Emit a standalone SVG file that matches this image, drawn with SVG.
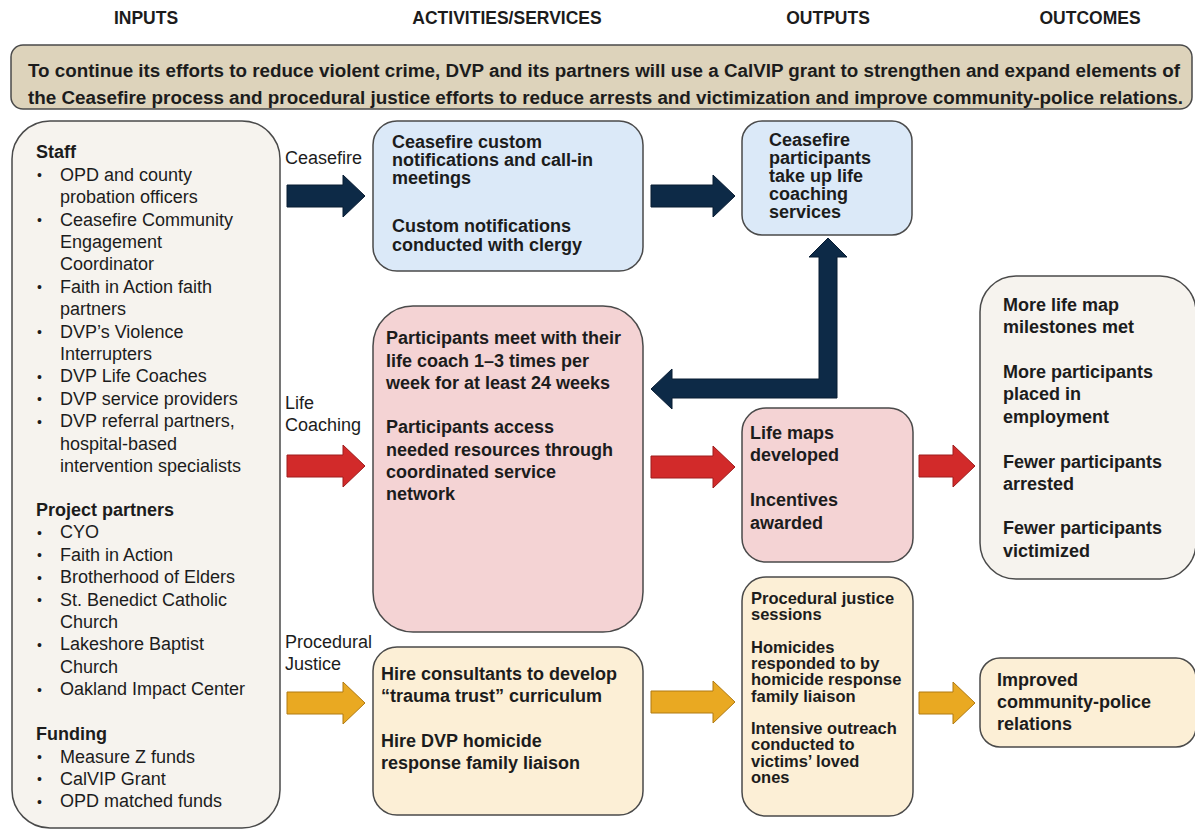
<svg xmlns="http://www.w3.org/2000/svg" width="1195" height="829" viewBox="0 0 1195 829">
<style>
text{font-family:"Liberation Sans",Arial,sans-serif;fill:#1c1c1c}
.h{font-size:17.5px;font-weight:bold;text-anchor:middle}
.b{font-size:18px;font-weight:bold}
.bs{font-size:16.5px;font-weight:bold}
.bn{font-size:17.5px;font-weight:bold}
.r{font-size:18px}
.bul{font-size:14px}
.box{stroke:#4a4a4a;stroke-width:1.5}
.navy{fill:#0d2a47;stroke:#081c33;stroke-width:1}
.red{fill:#d22a2a;stroke:#9e1c1c;stroke-width:1}
.gold{fill:#e9a922;stroke:#b07a12;stroke-width:1}
</style>
<defs>
<polygon id="arrL" points="0,-11 56,-11 56,-21 78,0 56,21 56,11 0,11"/>
<polygon id="arrM" points="0,-11 62,-11 62,-21 84,0 62,21 62,11 0,11"/>
<polygon id="arrS" points="0,-11 34,-11 34,-21 56,0 34,21 34,11 0,11"/>
</defs>
<rect width="1195" height="829" fill="#ffffff"/>
<g id="headers">
<text class="h" x="146" y="24">INPUTS</text>
<text class="h" x="507" y="24">ACTIVITIES/SERVICES</text>
<text class="h" x="828" y="24">OUTPUTS</text>
<text class="h" x="1090" y="24">OUTCOMES</text>
</g>
<g id="banner">
<rect class="box" x="11" y="45" width="1181" height="64" rx="12" fill="#ddd3bb"/>
<text class="bn" x="28" y="77" textLength="1152" lengthAdjust="spacingAndGlyphs">To continue its efforts to reduce violent crime, DVP and its partners will use a CalVIP grant to strengthen and expand elements of</text>
<text class="bn" x="28" y="104" textLength="1155" lengthAdjust="spacingAndGlyphs">the Ceasefire process and procedural justice efforts to reduce arrests and victimization and improve community-police relations.</text>
</g>
<g id="inputs">
<rect class="box" x="12" y="121" width="268" height="707" rx="38" fill="#f6f3ee"/>
<text class="b" x="36" y="158">Staff</text>
<g class="bul"><text x="37" y="180">•</text><text x="37" y="225">•</text><text x="37" y="292">•</text><text x="37" y="337">•</text><text x="37" y="382">•</text><text x="37" y="404">•</text><text x="37" y="427">•</text>
<text x="37" y="538">•</text><text x="37" y="560">•</text><text x="37" y="583">•</text><text x="37" y="605">•</text><text x="37" y="650">•</text><text x="37" y="695">•</text>
<text x="37" y="762">•</text><text x="37" y="784">•</text><text x="37" y="807">•</text></g>
<text class="r" x="60" y="181">OPD and county</text>
<text class="r" x="60" y="203">probation officers</text>
<text class="r" x="60" y="226">Ceasefire Community</text>
<text class="r" x="60" y="248">Engagement</text>
<text class="r" x="60" y="270">Coordinator</text>
<text class="r" x="60" y="293">Faith in Action faith</text>
<text class="r" x="60" y="315">partners</text>
<text class="r" x="60" y="338">DVP’s Violence</text>
<text class="r" x="60" y="360">Interrupters</text>
<text class="r" x="60" y="382">DVP Life Coaches</text>
<text class="r" x="60" y="405">DVP service providers</text>
<text class="r" x="60" y="427">DVP referral partners,</text>
<text class="r" x="60" y="450">hospital-based</text>
<text class="r" x="60" y="472">intervention specialists</text>
<text class="b" x="36" y="516">Project partners</text>
<text class="r" x="60" y="538">CYO</text>
<text class="r" x="60" y="561">Faith in Action</text>
<text class="r" x="60" y="583">Brotherhood of Elders</text>
<text class="r" x="60" y="606">St. Benedict Catholic</text>
<text class="r" x="60" y="628">Church</text>
<text class="r" x="60" y="650">Lakeshore Baptist</text>
<text class="r" x="60" y="673">Church</text>
<text class="r" x="60" y="695">Oakland Impact Center</text>
<text class="b" x="36" y="740">Funding</text>
<text class="r" x="60" y="763">Measure Z funds</text>
<text class="r" x="60" y="785">CalVIP Grant</text>
<text class="r" x="60" y="807">OPD matched funds</text>
</g>
<g id="labels">
<text class="r" x="285" y="164">Ceasefire</text>
<text class="r" x="285" y="409">Life</text>
<text class="r" x="285" y="431">Coaching</text>
<text class="r" x="285" y="648">Procedural</text>
<text class="r" x="285" y="670">Justice</text>
</g>
<g id="act-ceasefire">
<rect class="box" x="373" y="121" width="270" height="150" rx="24" fill="#dbe9f8"/>
<text class="b" x="392" y="148">Ceasefire custom</text>
<text class="b" x="392" y="166">notifications and call-in</text>
<text class="b" x="392" y="184">meetings</text>
<text class="b" x="392" y="232">Custom notifications</text>
<text class="b" x="392" y="251">conducted with clergy</text>
</g>
<g id="act-lifecoaching">
<rect class="box" x="373" y="306" width="270" height="326" rx="40" fill="#f4d3d4"/>
<text class="b" x="386" y="344">Participants meet with their</text>
<text class="b" x="386" y="367">life coach 1–3 times per</text>
<text class="b" x="386" y="389">week for at least 24 weeks</text>
<text class="b" x="386" y="433">Participants access</text>
<text class="b" x="386" y="456">needed resources through</text>
<text class="b" x="386" y="478">coordinated service</text>
<text class="b" x="386" y="500">network</text>
</g>
<g id="act-procedural">
<rect class="box" x="373" y="647" width="270" height="168" rx="24" fill="#fcefd6"/>
<text class="b" x="381" y="680">Hire consultants to develop</text>
<text class="b" x="381" y="702">“trauma trust” curriculum</text>
<text class="b" x="381" y="747">Hire DVP homicide</text>
<text class="b" x="381" y="769">response family liaison</text>
</g>
<g id="out-ceasefire">
<rect class="box" x="742" y="121" width="170" height="114" rx="20" fill="#dbe9f8"/>
<text class="b" x="769" y="146">Ceasefire</text>
<text class="b" x="769" y="164">participants</text>
<text class="b" x="769" y="182">take up life</text>
<text class="b" x="769" y="200">coaching</text>
<text class="b" x="769" y="218">services</text>
</g>
<g id="out-lifecoaching">
<rect class="box" x="742" y="408" width="171" height="154" rx="24" fill="#f4d3d4"/>
<text class="b" x="750" y="439">Life maps</text>
<text class="b" x="750" y="461">developed</text>
<text class="b" x="750" y="506">Incentives</text>
<text class="b" x="750" y="529">awarded</text>
</g>
<g id="out-procedural">
<rect class="box" x="742" y="577" width="171" height="239" rx="24" fill="#fcefd6"/>
<text class="bs" x="751" y="603.5">Procedural justice</text>
<text class="bs" x="751" y="620">sessions</text>
<text class="bs" x="751" y="652.5">Homicides</text>
<text class="bs" x="751" y="669">responded to by</text>
<text class="bs" x="751" y="685">homicide response</text>
<text class="bs" x="751" y="701.5">family liaison</text>
<text class="bs" x="751" y="733.5">Intensive outreach</text>
<text class="bs" x="751" y="750">conducted to</text>
<text class="bs" x="751" y="766.5">victims’ loved</text>
<text class="bs" x="751" y="783">ones</text>
</g>
<g id="outcome-lifecoaching">
<rect class="box" x="980" y="276" width="216" height="303" rx="36" fill="#f6f3ee"/>
<text class="b" x="1003" y="311">More life map</text>
<text class="b" x="1003" y="333">milestones met</text>
<text class="b" x="1003" y="378">More participants</text>
<text class="b" x="1003" y="400">placed in</text>
<text class="b" x="1003" y="423">employment</text>
<text class="b" x="1003" y="468">Fewer participants</text>
<text class="b" x="1003" y="490">arrested</text>
<text class="b" x="1003" y="534">Fewer participants</text>
<text class="b" x="1003" y="557">victimized</text>
</g>
<g id="outcome-procedural">
<rect class="box" x="980" y="658" width="216" height="89" rx="20" fill="#fcefd6"/>
<text class="b" x="997" y="686">Improved</text>
<text class="b" x="997" y="708">community-police</text>
<text class="b" x="997" y="730">relations</text>
</g>
<g id="connectors">
<use href="#arrL" class="navy" x="287" y="196"/>
<use href="#arrL" class="red" x="287" y="466"/>
<use href="#arrL" class="gold" x="287" y="703"/>
<use href="#arrM" class="navy" x="651" y="196"/>
<use href="#arrM" class="red" x="651" y="467"/>
<use href="#arrM" class="gold" x="651" y="702"/>
<use href="#arrS" class="red" x="919" y="466"/>
<use href="#arrS" class="gold" x="919" y="703"/>
<polygon class="navy" points="828,238 847,257 837,257 837,398 672,398 672,409 651,389 672,369 672,379 819,379 819,257 809,257"/>
</g>
</svg>
